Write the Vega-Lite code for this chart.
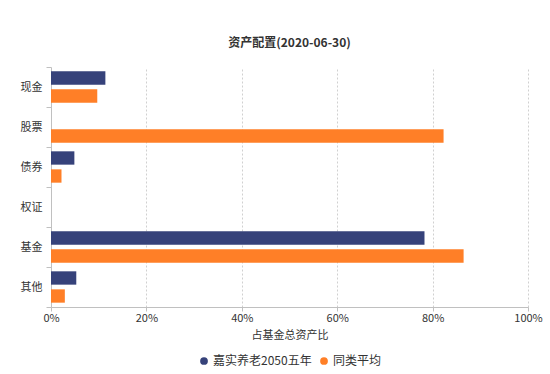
{
  "$schema": "https://vega.github.io/schema/vega-lite/v6.json",
  "width": 477,
  "height": 240,
  "autosize": {"type": "none"},
  "padding": {"left": 51, "top": 67, "right": 22, "bottom": 67},
  "background": "white",
  "title": {
    "text": "资产配置(2020-06-30)",
    "font": "Noto Sans CJK SC",
    "fontSize": 12,
    "fontWeight": "bold",
    "color": "#333333",
    "anchor": "middle",
    "offset": 11
  },
  "config": {
    "view": {"stroke": null},
    "font": "Noto Sans CJK SC"
  },
  "data": {
    "values": [
      {"category": "现金", "series": "嘉实养老2050五年", "value": 0.114},
      {"category": "现金", "series": "同类平均", "value": 0.097},
      {"category": "股票", "series": "嘉实养老2050五年", "value": 0},
      {"category": "股票", "series": "同类平均", "value": 0.823},
      {"category": "债券", "series": "嘉实养老2050五年", "value": 0.049},
      {"category": "债券", "series": "同类平均", "value": 0.022},
      {"category": "权证", "series": "嘉实养老2050五年", "value": 0},
      {"category": "权证", "series": "同类平均", "value": 0},
      {"category": "基金", "series": "嘉实养老2050五年", "value": 0.783},
      {"category": "基金", "series": "同类平均", "value": 0.865},
      {"category": "其他", "series": "嘉实养老2050五年", "value": 0.053},
      {"category": "其他", "series": "同类平均", "value": 0.029}
    ]
  },
  "mark": {"type": "bar"},
  "encoding": {
    "y": {
      "field": "category",
      "type": "nominal",
      "sort": ["现金", "股票", "债券", "权证", "基金", "其他"],
      "scale": {"paddingInner": 0, "paddingOuter": 0},
      "axis": {
        "title": null,
        "domainColor": "#c0c0c0",
        "tickColor": "#c0c0c0",
        "tickBand": "extent",
        "tickSize": 5,
        "labelFontSize": 11,
        "labelColor": "#333333",
        "labelPadding": 4,
        "grid": false
      }
    },
    "yOffset": {
      "field": "series",
      "type": "nominal",
      "sort": ["嘉实养老2050五年", "同类平均"],
      "scale": {"paddingInner": 0.26, "paddingOuter": 0.24}
    },
    "x": {
      "field": "value",
      "type": "quantitative",
      "scale": {"domain": [0, 1], "nice": false},
      "axis": {
        "title": "占基金总资产比",
        "titleFontSize": 11,
        "titleFontWeight": "normal",
        "titleColor": "#333333",
        "titlePadding": 6,
        "format": ".0%",
        "values": [0, 0.2, 0.4, 0.6, 0.8, 1],
        "labelFlush": false,
        "labelFontSize": 11,
        "labelColor": "#333333",
        "labelPadding": 1,
        "domainColor": "#c0c0c0",
        "tickColor": "#c0c0c0",
        "tickSize": 4,
        "grid": true,
        "gridColor": "#d0d0d0",
        "gridDash": [2, 2]
      }
    },
    "color": {
      "field": "series",
      "type": "nominal",
      "sort": ["嘉实养老2050五年", "同类平均"],
      "scale": {"domain": ["嘉实养老2050五年", "同类平均"], "range": ["#36427a", "#ff7f27"]},
      "legend": {
        "title": null,
        "orient": "none",
        "legendX": 147,
        "legendY": 288,
        "direction": "horizontal",
        "symbolType": "circle",
        "symbolSize": 60,
        "labelFontSize": 12,
        "labelColor": "#333333",
        "labelOffset": 3,
        "columnPadding": 6
      }
    }
  }
}
